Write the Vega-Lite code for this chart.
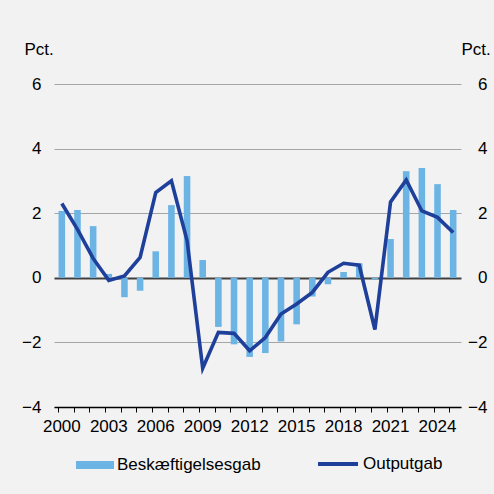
{
  "$schema": "https://vega.github.io/schema/vega-lite/v6.json",
  "width": 407,
  "height": 323,
  "autosize": "none",
  "padding": {"left": 54, "top": 84, "right": 33, "bottom": 87},
  "background": "#f2f2f2",
  "config": {
    "view": {"stroke": null},
    "font": "Liberation Sans",
    "axis": {"labelFont": "Liberation Sans", "titleFont": "Liberation Sans", "labelColor": "#000", "titleColor": "#000"}
  },
  "data": {
    "values": [
      {"year": 2000, "emp": 2.07, "out": 2.3},
      {"year": 2001, "emp": 2.1, "out": 1.5},
      {"year": 2002, "emp": 1.6, "out": 0.6},
      {"year": 2003, "emp": 0.12, "out": -0.08},
      {"year": 2004, "emp": -0.6, "out": 0.06},
      {"year": 2005, "emp": -0.4, "out": 0.63},
      {"year": 2006, "emp": 0.82, "out": 2.64},
      {"year": 2007, "emp": 2.25, "out": 3.0},
      {"year": 2008, "emp": 3.15, "out": 1.15},
      {"year": 2009, "emp": 0.55, "out": -2.8},
      {"year": 2010, "emp": -1.52, "out": -1.69},
      {"year": 2011, "emp": -2.06, "out": -1.72},
      {"year": 2012, "emp": -2.45, "out": -2.26},
      {"year": 2013, "emp": -2.33, "out": -1.85},
      {"year": 2014, "emp": -1.97, "out": -1.12},
      {"year": 2015, "emp": -1.44, "out": -0.81},
      {"year": 2016, "emp": -0.58, "out": -0.45},
      {"year": 2017, "emp": -0.2, "out": 0.17},
      {"year": 2018, "emp": 0.18, "out": 0.45},
      {"year": 2019, "emp": 0.45, "out": 0.39},
      {"year": 2020, "emp": -0.05, "out": -1.6},
      {"year": 2021, "emp": 1.2, "out": 2.35},
      {"year": 2022, "emp": 3.3, "out": 3.03},
      {"year": 2023, "emp": 3.4, "out": 2.07},
      {"year": 2024, "emp": 2.9, "out": 1.87},
      {"year": 2025, "emp": 2.1, "out": 1.4}
    ]
  },
  "encoding": {
    "x": {
      "field": "year",
      "type": "ordinal",
      "scale": {"paddingInner": 0.58, "paddingOuter": 0.29},
      "axis": {
        "title": null,
        "labelAngle": 0,
        "labelExpr": "(datum.value - 2000) % 3 === 0 ? datum.label : ''",
        "bandPosition": 0,
        "domainColor": "#000",
        "domainWidth": 1.5,
        "tickColor": "#000",
        "tickSize": 5,
        "labelFontSize": 17,
        "labelPadding": 6,
        "labelOverlap": false
      }
    }
  },
  "layer": [
    {
      "mark": {"type": "bar", "width": {"band": 1}},
      "encoding": {
        "y": {
          "field": "emp",
          "type": "quantitative",
          "scale": {"domain": [-4, 6], "nice": false},
          "axis": {
            "orient": "left",
            "values": [-4, -2, 0, 2, 4, 6],
            "title": "Pct.",
            "titleAngle": 0,
            "titleAlign": "left",
            "titleBaseline": "alphabetic",
            "titleX": -30,
            "titleY": -30,
            "titleFontSize": 17,
            "titleFontWeight": "normal",
            "labelFontSize": 17,
            "labelPadding": 13,
            "ticks": false,
            "tickSize": 0,
            "domain": false,
            "grid": true,
            "gridColor": {"condition": {"test": "datum.value === 0", "value": "#404040"}, "value": "#a3a6a4"},
            "gridWidth": {"condition": {"test": "datum.value === 0", "value": 2}, "value": 1.2}
          }
        },
        "fill": {
          "datum": "Beskæftigelsesgab",
          "scale": {"domain": ["Beskæftigelsesgab"], "range": ["#6cb4e4"]},
          "legend": {
            "title": null,
            "orient": "none",
            "legendX": 22,
            "legendY": 362,
            "symbolType": "M-1,-0.21L1,-0.21L1,0.21L-1,0.21Z",
            "symbolSize": 1444,
            "symbolStrokeWidth": 0,
            "labelFontSize": 17,
            "labelOffset": 3,
            "labelColor": "#000",
            "labelFont": "Liberation Sans"
          }
        }
      }
    },
    {
      "mark": {"type": "line", "strokeWidth": 3.6},
      "encoding": {
        "y": {
          "field": "out",
          "type": "quantitative",
          "scale": {"domain": [-4, 6], "nice": false},
          "axis": {
            "orient": "right",
            "values": [-4, -2, 0, 2, 4, 6],
            "title": "Pct.",
            "titleAngle": 0,
            "titleAlign": "left",
            "titleBaseline": "alphabetic",
            "titleX": 0,
            "titleY": -30,
            "titleFontSize": 17,
            "titleFontWeight": "normal",
            "labelFontSize": 17,
            "labelAlign": "right",
            "labelPadding": 26,
            "ticks": false,
            "tickSize": 0,
            "domain": false,
            "grid": false
          }
        },
        "stroke": {
          "datum": "Outputgab",
          "scale": {"domain": ["Outputgab"], "range": ["#1e3f9a"]},
          "legend": {
            "title": null,
            "orient": "none",
            "legendX": 262,
            "legendY": 358,
            "symbolType": "M-1,0L1,0",
            "symbolSize": 1600,
            "symbolStrokeWidth": 4,
            "labelFontSize": 17,
            "labelOffset": 3,
            "labelColor": "#000",
            "labelFont": "Liberation Sans"
          }
        }
      }
    }
  ],
  "resolve": {"scale": {"y": "independent"}}
}
